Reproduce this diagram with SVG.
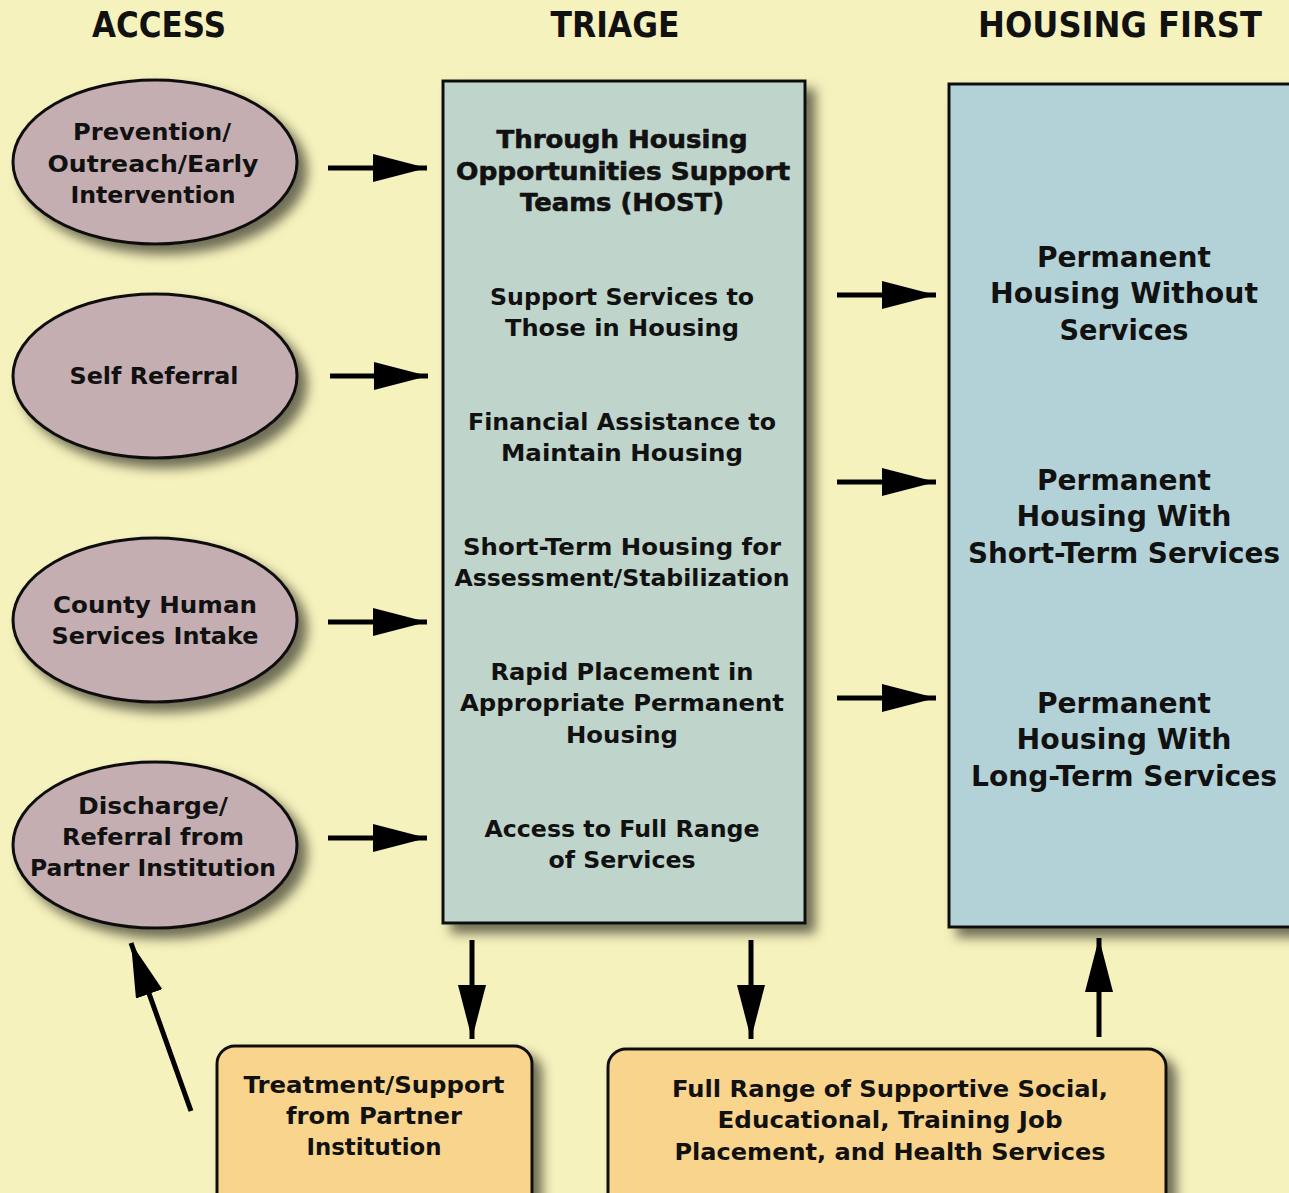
<svg xmlns="http://www.w3.org/2000/svg" width="1289" height="1193" viewBox="0 0 1289 1193">
<defs>
<filter id="sh" x="-10%" y="-10%" width="130%" height="130%">
<feDropShadow dx="9" dy="9" stdDeviation="6" flood-color="#000" flood-opacity="0.55"/>
</filter>
<marker id="ah" viewBox="0 0 54 28" refX="54" refY="14" markerWidth="54" markerHeight="28" markerUnits="userSpaceOnUse" orient="auto">
<path d="M0,0 L54,14 L0,28 Z" fill="#000"/>
</marker>
<style>
text{font-family:"DejaVu Sans","Liberation Sans",sans-serif;font-weight:700;fill:#111;text-anchor:middle}
.hd{font-size:35px}
.t{font-size:23px}
.tb{font-size:24px;stroke:#111;stroke-width:0.6}
.tl{font-size:27.5px}
.el{fill:#c4aeb1;stroke:#111;stroke-width:3;filter:url(#sh)}
.bx{stroke:#111;stroke-width:3;filter:url(#sh)}
.cn{stroke:#000;stroke-width:5;fill:none;marker-end:url(#ah)}
</style>
</defs>
<rect width="1289" height="1193" fill="#f6f2bd"/>
<g id="headers">
<text class="hd" x="159" y="37" textLength="134" lengthAdjust="spacingAndGlyphs">ACCESS</text>
<text class="hd" x="615" y="37" textLength="129" lengthAdjust="spacingAndGlyphs">TRIAGE</text>
<text class="hd" x="1120" y="37" textLength="284" lengthAdjust="spacingAndGlyphs">HOUSING FIRST</text>
</g>
<g id="access-prevention">
<ellipse class="el" cx="155" cy="162" rx="142" ry="82"/>
<text class="t" x="152" y="140" textLength="158" lengthAdjust="spacingAndGlyphs">Prevention/</text>
<text class="t" x="153" y="172" textLength="211" lengthAdjust="spacingAndGlyphs">Outreach/Early</text>
<text class="t" x="153" y="203" textLength="165" lengthAdjust="spacingAndGlyphs">Intervention</text>
</g>
<g id="access-self">
<ellipse class="el" cx="155" cy="376" rx="142" ry="82"/>
<text class="t" x="154" y="384" textLength="169" lengthAdjust="spacingAndGlyphs">Self Referral</text>
</g>
<g id="access-county">
<ellipse class="el" cx="155" cy="620" rx="142" ry="82"/>
<text class="t" x="155" y="613" textLength="204" lengthAdjust="spacingAndGlyphs">County Human</text>
<text class="t" x="155" y="644" textLength="207" lengthAdjust="spacingAndGlyphs">Services Intake</text>
</g>
<g id="access-discharge">
<ellipse class="el" cx="155" cy="845" rx="142" ry="83"/>
<text class="t" x="153" y="814" textLength="150" lengthAdjust="spacingAndGlyphs">Discharge/</text>
<text class="t" x="153" y="845" textLength="182" lengthAdjust="spacingAndGlyphs">Referral from</text>
<text class="t" x="153" y="876" textLength="246" lengthAdjust="spacingAndGlyphs">Partner Institution</text>
</g>
<g id="triage">
<rect class="bx" x="443" y="81" width="362" height="842" fill="#bfd4cb"/>
<text class="tb" x="622" y="148" textLength="251" lengthAdjust="spacingAndGlyphs">Through Housing</text>
<text class="tb" x="623" y="180" textLength="334" lengthAdjust="spacingAndGlyphs">Opportunities Support</text>
<text class="tb" x="622" y="211" textLength="204" lengthAdjust="spacingAndGlyphs">Teams (HOST)</text>
<text class="t" x="622" y="305" textLength="264" lengthAdjust="spacingAndGlyphs">Support Services to</text>
<text class="t" x="622" y="336" textLength="234" lengthAdjust="spacingAndGlyphs">Those in Housing</text>
<text class="t" x="622" y="430" textLength="308" lengthAdjust="spacingAndGlyphs">Financial Assistance to</text>
<text class="t" x="622" y="461" textLength="242" lengthAdjust="spacingAndGlyphs">Maintain Housing</text>
<text class="t" x="622" y="555" textLength="318" lengthAdjust="spacingAndGlyphs">Short-Term Housing for</text>
<text class="t" x="622" y="586" textLength="335" lengthAdjust="spacingAndGlyphs">Assessment/Stabilization</text>
<text class="t" x="622" y="680" textLength="263" lengthAdjust="spacingAndGlyphs">Rapid Placement in</text>
<text class="t" x="622" y="711" textLength="324" lengthAdjust="spacingAndGlyphs">Appropriate Permanent</text>
<text class="t" x="622" y="743" textLength="112" lengthAdjust="spacingAndGlyphs">Housing</text>
<text class="t" x="622" y="837" textLength="275" lengthAdjust="spacingAndGlyphs">Access to Full Range</text>
<text class="t" x="622" y="868" textLength="147" lengthAdjust="spacingAndGlyphs">of Services</text>
</g>
<g id="housing-first">
<rect class="bx" x="949" y="84" width="360" height="843" fill="#b3d2d8"/>
<text class="tl" x="1124" y="267" textLength="174" lengthAdjust="spacingAndGlyphs">Permanent</text>
<text class="tl" x="1124" y="303" textLength="268" lengthAdjust="spacingAndGlyphs">Housing Without</text>
<text class="tl" x="1124" y="340" textLength="129" lengthAdjust="spacingAndGlyphs">Services</text>
<text class="tl" x="1124" y="490" textLength="174" lengthAdjust="spacingAndGlyphs">Permanent</text>
<text class="tl" x="1124" y="526" textLength="215" lengthAdjust="spacingAndGlyphs">Housing With</text>
<text class="tl" x="1124" y="563" textLength="312" lengthAdjust="spacingAndGlyphs">Short-Term Services</text>
<text class="tl" x="1124" y="713" textLength="174" lengthAdjust="spacingAndGlyphs">Permanent</text>
<text class="tl" x="1124" y="749" textLength="215" lengthAdjust="spacingAndGlyphs">Housing With</text>
<text class="tl" x="1124" y="786" textLength="306" lengthAdjust="spacingAndGlyphs">Long-Term Services</text>
</g>
<g id="treatment">
<rect class="bx" x="217" y="1046" width="315" height="170" rx="18" fill="#f9d48c"/>
<text class="t" x="374" y="1093" textLength="261" lengthAdjust="spacingAndGlyphs">Treatment/Support</text>
<text class="t" x="374" y="1124" textLength="176" lengthAdjust="spacingAndGlyphs">from Partner</text>
<text class="t" x="374" y="1155" textLength="135" lengthAdjust="spacingAndGlyphs">Institution</text>
</g>
<g id="supportive">
<rect class="bx" x="608" y="1049" width="558" height="170" rx="18" fill="#f9d48c"/>
<text class="t" x="890" y="1097" textLength="436" lengthAdjust="spacingAndGlyphs">Full Range of Supportive Social,</text>
<text class="t" x="890" y="1128" textLength="345" lengthAdjust="spacingAndGlyphs">Educational, Training Job</text>
<text class="t" x="890" y="1160" textLength="431" lengthAdjust="spacingAndGlyphs">Placement, and Health Services</text>
</g>
<g id="connectors">
<line class="cn" x1="328" y1="168" x2="427" y2="168"/>
<line class="cn" x1="330" y1="376" x2="428" y2="376"/>
<line class="cn" x1="328" y1="622" x2="427" y2="622"/>
<line class="cn" x1="328" y1="838" x2="427" y2="838"/>
<line class="cn" x1="837" y1="295" x2="936" y2="295"/>
<line class="cn" x1="837" y1="482" x2="936" y2="482"/>
<line class="cn" x1="837" y1="698" x2="936" y2="698"/>
<line class="cn" x1="472" y1="940" x2="472" y2="1039"/>
<line class="cn" x1="751" y1="940" x2="751" y2="1039"/>
<line class="cn" x1="1099" y1="1037" x2="1099" y2="938"/>
<line class="cn" x1="191" y1="1111" x2="131" y2="943"/>
</g>
</svg>
